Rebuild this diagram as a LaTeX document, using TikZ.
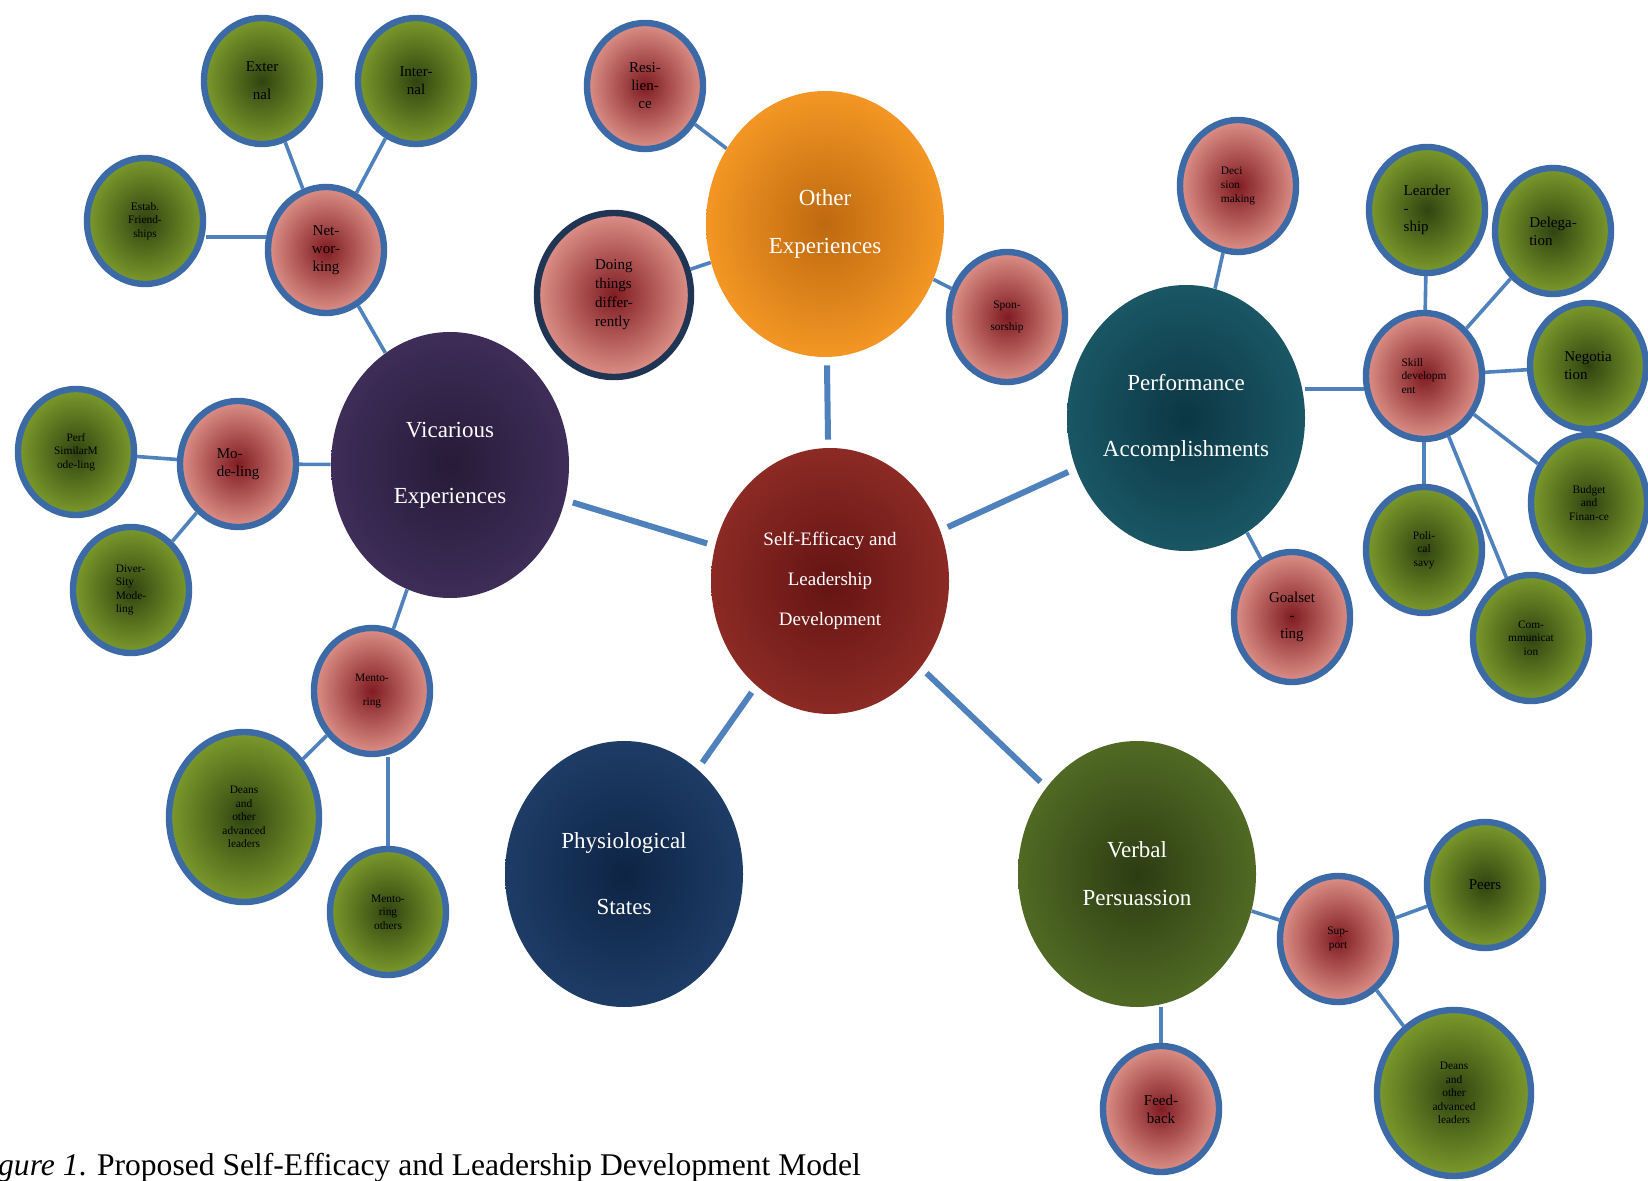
\documentclass[tikz,border=0pt]{standalone}
\usepackage{fontspec}
\setmainfont{Liberation Serif}
\usepackage{tikz}
\usepackage{xcolor}
\usetikzlibrary{shapes.geometric}

\definecolor{rimblue}{RGB}{60,106,166}
\definecolor{linkblue}{RGB}{79,129,189}
\definecolor{pinkout}{RGB}{221,144,136}
\definecolor{pinkin}{RGB}{128,28,34}
\definecolor{greenout}{RGB}{124,154,44}
\definecolor{greenin}{RGB}{48,68,16}

\begin{document}
\begin{tikzpicture}[x=0.5pt,y=-0.5pt,
    hub/.style={ellipse, minimum width=119pt, minimum height=133pt, inner sep=0pt, text=white, align=center},
    pinkball/.style={ellipse, draw=rimblue, line width=3.2pt, minimum width=58pt, minimum height=63pt, inner sep=0pt, inner color=pinkin, outer color=pinkout, align=center},
    greenball/.style={pinkball, inner color=greenin, outer color=greenout},
    tinytxt/.style={font=\fontsize{5.7}{6.8}\selectfont},
    smalltxt/.style={font=\fontsize{7.5}{9}\selectfont},
    mainlink/.style={draw=linkblue, line width=3pt, shorten <=4pt, shorten >=4pt},
    sublink/.style={draw=linkblue, line width=1.8pt}]
    \useasboundingbox (0,0) rectangle (1648,1181);

    % Centre and the five sources
    \node[hub, inner color={rgb,255:red,100;green,20;blue,20}, outer color={rgb,255:red,140;green,42;blue,36}, font=\fontsize{9.5}{20}\selectfont] (seld) at (830,581) {Self-Efficacy and\\Leadership\\Development};
    \node[hub, inner color={rgb,255:red,190;green,105;blue,15}, outer color={rgb,255:red,243;green,150;blue,36}, font=\fontsize{11.5}{24}\selectfont] (other) at (825,224) {Other\\Experiences};
    \node[hub, inner color={rgb,255:red,38;green,27;blue,56}, outer color={rgb,255:red,62;green,45;blue,88}, font=\fontsize{11.5}{33}\selectfont] (vica) at (450,465) {Vicarious\\Experiences};
    \node[hub, inner color={rgb,255:red,12;green,55;blue,68}, outer color={rgb,255:red,26;green,86;blue,100}, font=\fontsize{11.5}{33}\selectfont] (perf) at (1186,418) {Performance\\Accomplishments};
    \node[hub, inner color={rgb,255:red,14;green,36;blue,68}, outer color={rgb,255:red,29;green,60;blue,102}, font=\fontsize{11.5}{33}\selectfont] (phys) at (624,874) {Physiological\\States};
    \node[hub, inner color={rgb,255:red,44;green,60;blue,18}, outer color={rgb,255:red,80;green,106;blue,36}, font=\fontsize{11.5}{24}\selectfont] (verb) at (1137,874) {Verbal\\Persuassion};

    % Vicarious experiences
    \node[pinkball, smalltxt] (netw) at (326,250) {Net-\\wor-\\king};
    \node[greenball, font=\fontsize{7.5}{14}\selectfont] (exter) at (262,81) {Exter\\nal};
    \node[greenball, smalltxt] (inter) at (416,81) {Inter-\\nal};
    \node[greenball, tinytxt] (estab) at (145,221) {Estab.\\Friend-\\ships};
    \node[pinkball, smalltxt, align=left] (mode) at (238,464) {Mo-\\de-ling};
    \node[greenball, tinytxt] (perfsim) at (76,452) {Perf\\SimilarM\\ode-ling};
    \node[greenball, tinytxt, align=left] (diver) at (131,590) {Diver-\\Sity\\Mode-\\ling};
    \node[pinkball, font=\fontsize{5.7}{12}\selectfont] (ment) at (372,691) {Mento-\\ring};
    \node[greenball, tinytxt, minimum width=75pt, minimum height=85pt] (deansl) at (244,817) {Deans\\and\\other\\advanced\\leaders};
    \node[greenball, tinytxt] (mentoth) at (388,912) {Mento-\\ring\\others};

    % Other experiences
    \node[pinkball, smalltxt] (resi) at (645,86) {Resi-\\lien-\\ce};
    \node[pinkball, draw={rgb,255:red,32;green,52;blue,84}, font=\fontsize{7.5}{9.5}\selectfont, align=left, minimum width=77pt, minimum height=82pt] (doing) at (614,295) {Doing\\things\\differ-\\rently};
    \node[pinkball, font=\fontsize{5.7}{11}\selectfont, minimum height=65pt] (spon) at (1007,317) {Spon-\\sorship};

    % Performance accomplishments
    \node[pinkball, tinytxt, align=left, minimum height=66pt] (deci) at (1238,186) {Deci\\sion\\making};
    \node[pinkball, tinytxt, align=left] (skill) at (1424,376) {Skill\\developm\\ent};
    \node[pinkball, font=\fontsize{7.5}{8.8}\selectfont, minimum height=65pt] (goal) at (1292,617) {Goalset\\-\\ting};
    \node[greenball, smalltxt, align=left] (lead) at (1427,210) {Learder\\-\\ship};
    \node[greenball, smalltxt, align=left] (deleg) at (1553,231) {Delega-\\tion};
    \node[greenball, smalltxt, align=left] (nego) at (1588,366) {Negotia\\tion};
    \node[greenball, tinytxt, minimum height=68pt] (budg) at (1589,503) {Budget\\and\\Finan-ce};
    \node[greenball, tinytxt] (poli) at (1424,550) {Poli-\\cal\\savy};
    \node[greenball, tinytxt] (comm) at (1531,638) {Com-\\mmunicat\\ion};

    % Verbal persuassion
    \node[pinkball, tinytxt] (supp) at (1338,939) {Sup-\\port};
    \node[pinkball, smalltxt] (feed) at (1161,1109) {Feed-\\back};
    \node[greenball, smalltxt] (peers) at (1485,885) {Peers};
    \node[greenball, tinytxt, minimum width=77pt, minimum height=83pt] (deansr) at (1454,1093) {Deans\\and\\other\\advanced\\leaders};

    % Links from the centre
    \draw[mainlink] (seld) -- (other);
    \draw[mainlink] (seld) -- (vica);
    \draw[mainlink] (seld) -- (perf);
    \draw[mainlink] (seld) -- (phys);
    \draw[mainlink] (seld) -- (verb);

    % Links to the outer circles
    \draw[sublink] (vica) -- (netw);
    \draw[sublink] (netw) -- (exter);
    \draw[sublink] (netw) -- (inter);
    \draw[sublink] (netw.168) -- (netw.168 -| estab.east);
    \draw[sublink] (vica) -- (mode);
    \draw[sublink] (mode) -- (perfsim);
    \draw[sublink] (mode) -- (diver);
    \draw[sublink] (vica) -- (ment);
    \draw[sublink] (ment) -- (deansl);
    \draw[sublink] (mentoth.north) -- (mentoth.north |- ment.south);
    \draw[sublink] (other) -- (resi);
    \draw[sublink] (other) -- (doing);
    \draw[sublink] (other) -- (spon);
    \draw[sublink] (perf) -- (deci);
    \draw[sublink] (skill.192) -- (skill.192 -| perf.east);
    \draw[sublink] (perf) -- (goal);
    \draw[sublink] (skill) -- (lead);
    \draw[sublink] (skill) -- (deleg);
    \draw[sublink] (skill) -- (nego);
    \draw[sublink] (skill) -- (budg);
    \draw[sublink] (skill) -- (poli);
    \draw[sublink] (skill) -- (comm);
    \draw[sublink] (verb) -- (supp);
    \draw[sublink] (feed.north) -- (feed.north |- verb.south);
    \draw[sublink] (supp) -- (peers);
    \draw[sublink] (supp) -- (deansr);

    % Caption
    \node[anchor=base west, font=\fontsize{15.8}{18}\selectfont] (caption) at (-37,1175) {\textit{Figure 1}. Proposed Self-Efficacy and Leadership Development Model};
\end{tikzpicture}
\end{document}
